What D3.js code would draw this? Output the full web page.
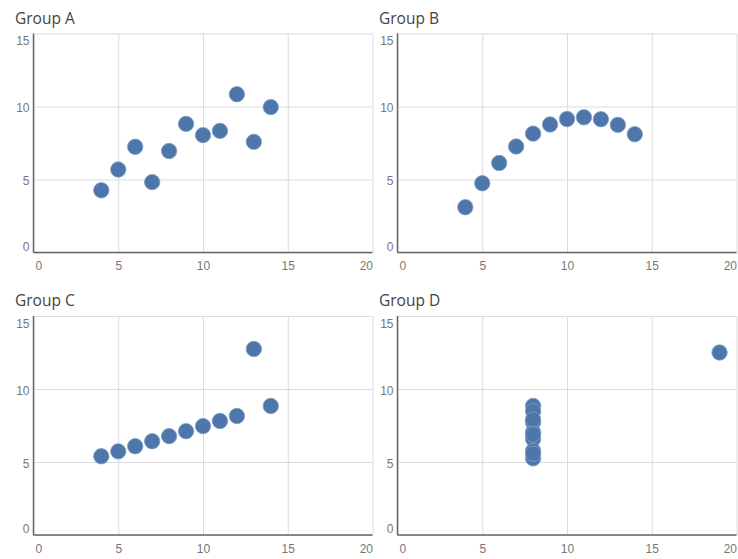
<!DOCTYPE html>
<html>
<head>
<meta charset="utf-8">
<script src="https://cdn.jsdelivr.net/npm/d3@7"></script>
<style>
  body { margin: 0; background: #fff; }
  svg { font-family: "Open Sans", "Noto Sans", sans-serif; }
  .title { font-size: 15.5px; fill: #444; }
  .tick text { font-size: 12px; fill: #777; }
</style>
</head>
<body>
<svg id="chart" width="738" height="559"></svg>
<script>
// Anscombe-style groups, values
const groups = ["Group A", "Group B", "Group C", "Group D"];
const xA = [10, 8, 13, 9, 11, 14, 6, 4, 12, 7, 5];
const yA = [8.04, 6.95, 7.58, 8.81, 8.33, 9.96, 7.24, 4.26, 10.84, 4.82, 5.68];
const yB = [9.14, 8.14, 8.74, 8.77, 9.26, 8.10, 6.13, 3.10, 9.13, 7.26, 4.74];
const yC = [7.46, 6.77, 12.74, 7.11, 7.81, 8.84, 6.08, 5.39, 8.15, 6.42, 5.73];
const xD = [8, 8, 8, 8, 8, 8, 8, 19, 8, 8, 8];
const yD = [6.58, 5.76, 7.71, 8.84, 8.47, 7.04, 5.25, 12.50, 5.56, 7.91, 6.89];
const xTicks = [0, 5, 10, 15, 20];
const yTicks = [0, 5, 10, 15];

const series = [
  { name: groups[0], x: xA, y: yA },
  { name: groups[1], x: xA, y: yB },
  { name: groups[2], x: xA, y: yC },
  { name: groups[3], x: xD, y: yD }
];

// panel layout
const colX = [33.5, 397.5],
      rowY = [33.5, 316],
      plotW = 339,
      plotH = 219;

const svg = d3.select("#chart");

series.forEach((s, i) => {
  const left = colX[i % 2], top = rowY[Math.floor(i / 2)];

  const x = d3.scaleLinear().domain([0, 20]).range([0, plotW]);
  const y = d3.scaleLinear().domain([0, 15]).range([plotH, 0]);

  const g = svg.append("g").attr("transform", `translate(${left},${top})`);

  // title
  svg.append("text")
    .attr("class", "title")
    .attr("x", left - 18.5)
    .attr("y", top - 10)
    .text(s.name);

  // x axis with vertical grid
  const gx = g.append("g")
    .attr("transform", `translate(0,${plotH})`)
    .call(d3.axisBottom(x).tickValues(xTicks).tickSize(-plotH).tickPadding(9));
  gx.select(".domain").remove();
  gx.selectAll(".tick line").attr("stroke", "#dcdcdc");
  gx.selectAll(".tick text")
    .attr("text-anchor", d => d === 0 ? "start" : d === 20 ? "end" : "middle")
    .attr("dx", d => d === 0 ? 1.5 : 0);

  // y axis with horizontal grid
  const gy = g.append("g")
    .call(d3.axisLeft(y).tickValues(yTicks).tickSize(-plotW).tickPadding(4));
  gy.select(".domain").remove();
  gy.selectAll(".tick line").attr("stroke", "#dcdcdc");
  gy.selectAll(".tick text")
    .attr("dy", d => d === 0 ? "-0.2em" : d === 15 ? "0.95em" : "0.45em");

  // axis lines
  g.append("line")
    .attr("x1", 0).attr("x2", 0).attr("y1", 0).attr("y2", plotH)
    .attr("stroke", "#666").attr("stroke-width", 1.5);
  g.append("line")
    .attr("x1", 0).attr("x2", plotW).attr("y1", plotH).attr("y2", plotH)
    .attr("stroke", "#666").attr("stroke-width", 1.5);

  // points
  g.selectAll("circle")
    .data(s.x.map((v, j) => [v, s.y[j]]))
    .join("circle")
    .attr("cx", d => x(d[0]))
    .attr("cy", d => y(d[1]))
    .attr("r", 7.7)
    .attr("fill", "#4d76ab")
    .attr("stroke", "#7f9dc4")
    .attr("stroke-width", 0.8);
});
</script>
</body>
</html>
